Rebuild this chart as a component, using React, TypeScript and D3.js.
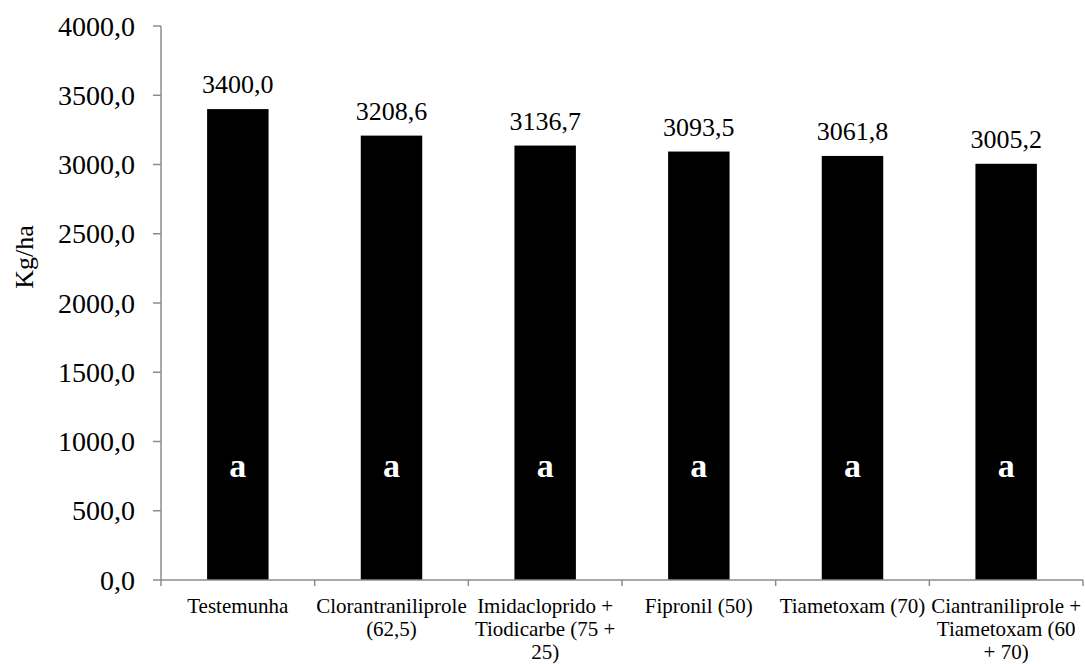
import React from "react";
import * as d3 from "d3";

const categories: string[] = [
  "Testemunha",
  "Clorantraniliprole\n(62,5)",
  "Imidacloprido +\nTiodicarbe (75 +\n25)",
  "Fipronil (50)",
  "Tiametoxam (70)",
  "Ciantraniliprole +\nTiametoxam (60\n+ 70)",
];
const values: number[] = [3400.0, 3208.6, 3136.7, 3093.5, 3061.8, 3005.2];
const letters: string[] = ["a", "a", "a", "a", "a", "a"];
const yTicks: number[] = [0, 500, 1000, 1500, 2000, 2500, 3000, 3500, 4000];
const yTitle = "Kg/ha";

const W = 1085;
const H = 664;
const FONT = "'Liberation Serif', 'Times New Roman', Times, serif";
const AXIS = "#8c8c8c";

const fmt = (v: number) => v.toFixed(1).replace(".", ",");

export default function App() {
  const x = d3
    .scaleBand<string>()
    .domain(categories)
    .range([161, 1083])
    .paddingInner(0.6)
    .paddingOuter(0.3);
  const y = d3.scaleLinear().domain([0, 4000]).range([580, 26]);
  const step = x.step();
  const x0 = 161;
  const x1 = 1083;

  return (
    <svg
      width={W}
      height={H}
      style={{ position: "absolute", left: 0, top: 0, display: "block", background: "#fff" }}
      fontFamily={FONT}
    >
      {/* y axis */}
      <line x1={x0} x2={x0} y1={y(4000)} y2={y(0)} stroke={AXIS} strokeWidth={1.5} />
      {yTicks.map((t) => (
        <g key={t}>
          <line x1={x0 - 8} x2={x0} y1={y(t)} y2={y(t)} stroke={AXIS} strokeWidth={1.5} />
          <text x={135} y={y(t)} dy="0.34em" textAnchor="end" fontSize={28} fill="#000">
            {fmt(t)}
          </text>
        </g>
      ))}
      <text
        transform={`translate(33,257) rotate(-90)`}
        textAnchor="middle"
        fontSize={26}
        fill="#000"
      >
        {yTitle}
      </text>

      {/* bars */}
      {categories.map((c, i) => {
        const bx = x(c) as number;
        const bw = x.bandwidth();
        const cx = bx + bw / 2;
        return (
          <g key={c}>
            <rect x={bx} y={y(values[i])} width={bw} height={y(0) - y(values[i])} fill="#000" />
            <text x={cx} y={y(values[i]) - 16} textAnchor="middle" fontSize={26} fill="#000">
              {fmt(values[i])}
            </text>
            <text x={cx} y={477} textAnchor="middle" fontSize={34} fontWeight="bold" fill="#fff">
              {letters[i]}
            </text>
          </g>
        );
      })}

      {/* x axis */}
      <line x1={x0} x2={x1} y1={y(0)} y2={y(0)} stroke={AXIS} strokeWidth={1.5} />
      {d3.range(categories.length + 1).map((k) => (
        <line
          key={k}
          x1={x0 + k * step}
          x2={x0 + k * step}
          y1={y(0)}
          y2={y(0) + 6}
          stroke={AXIS}
          strokeWidth={1.5}
        />
      ))}
      {categories.map((c) => {
        const cx = (x(c) as number) + x.bandwidth() / 2;
        return (
          <text key={c} textAnchor="middle" fontSize={21} fill="#000">
            {c.split("\n").map((ln, j) => (
              <tspan key={j} x={cx} y={613 + j * 23}>
                {ln}
              </tspan>
            ))}
          </text>
        );
      })}
    </svg>
  );
}
